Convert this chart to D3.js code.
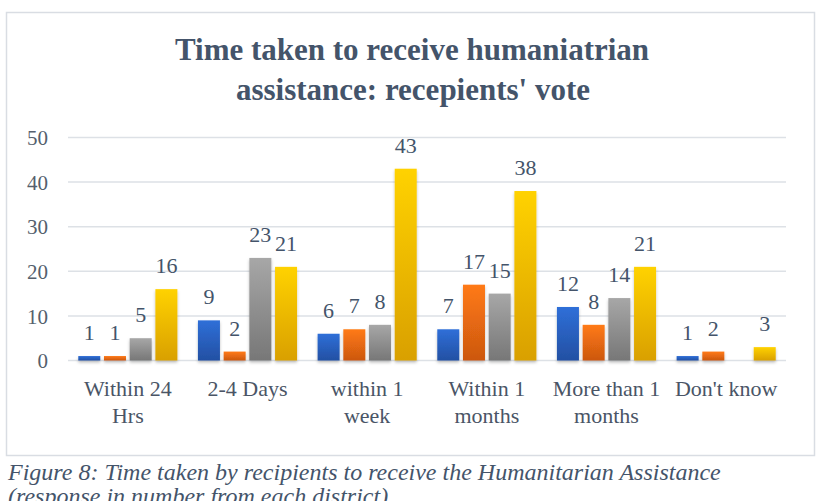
<!DOCTYPE html>
<html>
<head>
<meta charset="utf-8">
<script src="https://cdn.jsdelivr.net/npm/d3@7/dist/d3.min.js"></script>
<style>
  html, body { margin: 0; padding: 0; background: #ffffff; }
  svg { display: block; }
</style>
</head>
<body>
<svg id="chart" width="821" height="501"></svg>
<script>
// Categories (two-line labels split on "|")
const categories = ["Within 24|Hrs", "2-4 Days", "within 1|week", "Within 1|months", "More than 1|months", "Don't know"];
// Responses per district (null = no bar)
const district1 = [1, 9, 6, 7, 12, 1];
const district2 = [1, 2, 7, 17, 8, 2];
const district3 = [5, 23, 8, 15, 14, null];
const district4 = [16, 21, 43, 38, 21, 3];
const yTicks = [0, 10, 20, 30, 40, 50];

const seriesList = [
  { key: "d1", values: district1, top: "#2f6fd8", bottom: "#2350a3" },
  { key: "d2", values: district2, top: "#ff7a14", bottom: "#cc5710" },
  { key: "d3", values: district3, top: "#a7a7a7", bottom: "#777777" },
  { key: "d4", values: district4, top: "#ffd200", bottom: "#d9a000" }
];

const FONT = "'Liberation Serif', 'Times New Roman', serif";
const textColor = "#44546a";
const svg = d3.select("#chart");

// chart frame
svg.append("rect")
  .attr("x", 6.5).attr("y", 12.5).attr("width", 808).attr("height", 443)
  .attr("fill", "#ffffff").attr("stroke", "#d9dde3").attr("stroke-width", 1.5);

const defs = svg.append("defs");
seriesList.forEach(s => {
  const g = defs.append("linearGradient")
    .attr("id", "grad-" + s.key).attr("x1", 0).attr("y1", 0).attr("x2", 0).attr("y2", 1);
  g.append("stop").attr("offset", "0%").attr("stop-color", s.top);
  g.append("stop").attr("offset", "100%").attr("stop-color", s.bottom);
});
const shadow = defs.append("filter").attr("id", "barShadow")
  .attr("x", "-20%").attr("y", "-5%").attr("width", "140%").attr("height", "115%");
shadow.append("feDropShadow").attr("dx", 0).attr("dy", 2).attr("stdDeviation", 1.5)
  .attr("flood-color", "#000").attr("flood-opacity", 0.25);

// title
const title = svg.append("text")
  .attr("text-anchor", "middle").attr("fill", textColor)
  .style("font-family", FONT).style("font-size", "31px").style("font-weight", "bold");
title.append("tspan").attr("x", 412).attr("y", 60).text("Time taken to receive humaniatrian");
title.append("tspan").attr("x", 413).attr("y", 100).text("assistance: recepients' vote");

// scales
const x0 = d3.scaleBand().domain(categories).range([68, 786]).paddingInner(0).paddingOuter(0);
const x1 = d3.scaleBand().domain(seriesList.map(s => s.key)).range([0, x0.bandwidth()])
  .paddingInner(0.144).paddingOuter(0.4);
const y = d3.scaleLinear().domain([0, 50]).range([360.5, 137.5]);

// gridlines
svg.append("g").selectAll("line").data(yTicks).join("line")
  .attr("x1", 68).attr("x2", 786)
  .attr("y1", d => y(d)).attr("y2", d => y(d))
  .attr("stroke", "#dde1e6").attr("stroke-width", 1.5);

// y axis labels
const yAxis = d3.axisLeft(y).tickValues(yTicks).tickSize(0).tickPadding(0);
const yg = svg.append("g").attr("transform", "translate(48,0)").call(yAxis);
yg.select(".domain").remove();
yg.attr("font-family", null).attr("font-size", null);
yg.selectAll("text")
  .style("font-family", FONT).style("font-size", "21px")
  .attr("fill", "#555f6d").attr("dy", "0.34em");

// bars
const rows = [];
seriesList.forEach(s => {
  s.values.forEach((v, i) => {
    if (v !== null) rows.push({ cat: categories[i], key: s.key, value: v });
  });
});

svg.append("g").attr("filter", "url(#barShadow)")
  .selectAll("rect").data(rows).join("rect")
  .attr("x", d => x0(d.cat) + x1(d.key))
  .attr("y", d => y(d.value))
  .attr("width", x1.bandwidth())
  .attr("height", d => y(0) - y(d.value))
  .attr("fill", d => "url(#grad-" + d.key + ")");

// value labels
svg.append("g").selectAll("text").data(rows).join("text")
  .attr("x", d => x0(d.cat) + x1(d.key) + x1.bandwidth() / 2)
  .attr("y", d => y(d.value) - 16)
  .attr("text-anchor", "middle")
  .style("font-family", FONT).style("font-size", "22px")
  .attr("fill", textColor)
  .text(d => d.value);

// category labels
const xg = svg.append("g");
categories.forEach(c => {
  const t = xg.append("text")
    .attr("text-anchor", "middle").attr("fill", "#4a5566")
    .style("font-family", FONT).style("font-size", "22px");
  c.split("|").forEach((line, j) => {
    t.append("tspan").attr("x", x0(c) + x0.bandwidth() / 2).attr("y", 396 + j * 27).text(line);
  });
});

// caption
const cap = svg.append("text").attr("fill", textColor)
  .style("font-family", FONT).style("font-size", "24px").style("font-style", "italic");
cap.append("tspan").attr("x", 8).attr("y", 480).text("Figure 8: Time taken by recipients to receive the Humanitarian Assistance");
cap.append("tspan").attr("x", 8).attr("y", 504).text("(response in number from each district)");
</script>
</body>
</html>
